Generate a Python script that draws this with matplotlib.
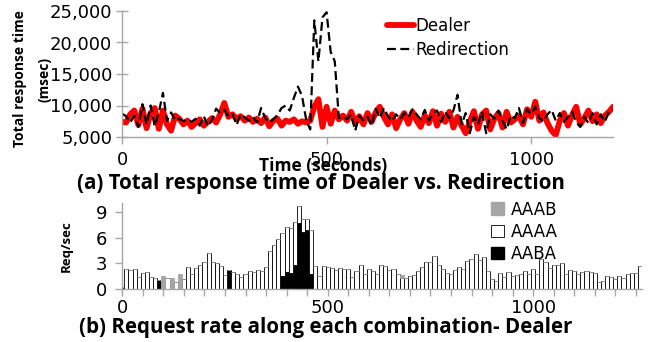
import numpy as np
import matplotlib
matplotlib.use("Agg")
import matplotlib.pyplot as plt
from matplotlib.patches import Patch

W, H = 660, 342

# (a) response time, sampled every 10 s from 0 to 1200 s (thousands of msec)
time_s = np.arange(0, 1201, 10)
dealer_k = [
    7.4, 7.3, 8.6, 9.2, 6.9, 9.5, 6.4, 8.8, 9.6, 6.3,
    9.2, 7.0, 6.0, 8.4, 7.9, 7.0, 7.6, 6.6, 7.2, 7.8,
    6.8, 7.4, 8.0, 7.3, 8.6, 10.4, 8.2, 8.6, 7.9, 8.3,
    7.6, 8.1, 7.4, 7.9, 7.2, 8.1, 6.7, 7.6, 7.9, 6.8,
    7.6, 7.4, 7.8, 7.1, 7.5, 7.3, 7.6, 9.8, 11.0, 6.6,
    9.8, 7.1, 9.2, 7.8, 8.4, 7.6, 9.0, 7.2, 8.3, 7.0,
    8.8, 7.4, 8.9, 9.8, 8.2, 7.0, 8.6, 6.4, 7.8, 8.8,
    7.1, 9.0, 7.6, 6.6, 8.4, 7.2, 9.1, 6.8, 8.7, 7.4,
    9.0, 6.5, 8.2, 6.8, 5.6, 7.4, 9.1, 6.3, 8.6, 9.2,
    6.2, 7.9, 8.8, 6.5, 9.0, 7.3, 7.8, 8.4, 7.0, 9.4,
    8.2, 10.6, 7.6, 8.9, 7.2, 6.0, 5.3, 7.6, 8.8, 6.8,
    8.5, 9.8, 7.0, 8.0, 9.2, 7.5, 8.6, 7.2, 8.4, 9.0,
    9.8,
]
redirection_k = [
    8.7, 8.3, 7.3, 8.4, 6.6, 10.2, 7.0, 10.0, 6.7, 8.9,
    12.0, 7.6, 8.9, 7.6, 7.9, 7.5, 7.8, 7.4, 7.9, 6.8,
    8.3, 6.7, 7.7, 9.5, 8.8, 9.3, 8.3, 8.7, 6.9, 8.6,
    8.1, 7.6, 8.2, 7.3, 9.6, 8.0, 7.3, 7.8, 8.5, 9.6,
    10.0, 9.2, 11.2, 13.0, 11.5, 7.8, 6.2, 23.5, 17.0, 24.0,
    24.8, 18.5, 17.0, 8.0, 8.2, 7.8, 8.6, 6.0, 8.4, 7.6,
    8.2, 6.8, 9.5, 8.0, 9.6, 8.3, 7.5, 8.6, 7.8, 8.8,
    8.1, 9.4, 8.6, 7.8, 9.3, 7.6, 8.7, 9.2, 7.4, 9.0,
    8.0, 9.2, 11.7, 7.0, 8.8, 5.6, 8.2, 7.0, 9.0, 5.6,
    8.6, 7.9, 9.2, 7.6, 6.2, 8.4, 8.0, 9.6, 7.2, 9.4,
    8.6, 9.8, 8.0, 7.4, 8.6, 9.3, 7.6, 8.8, 7.4, 8.2,
    9.0, 7.4, 6.6, 8.2, 7.2, 8.8, 7.0, 8.6, 7.4, 9.0,
    9.3,
]

# (b) request rate per 10 s bin, 0..1260 s
bin_s = np.arange(0, 1261, 10)
aaaa = [
    0, 2.3, 2.2, 2.35, 1.4, 1.9, 2.0, 1.4, 1.25, 0,
    0, 1.3, 0, 0.8, 0, 1.2, 2.55, 1.8, 2.4, 2.8,
    3.1, 4.2, 3.1, 3.0, 2.7, 1.65, 0, 2.0, 1.8, 1.45,
    1.8, 2.1, 1.95, 2.2, 2.05, 2.6, 4.5, 5.2, 5.85, 5.05,
    5.3, 5.2, 5.0, 2.0, 1.45, 1.3, 5.2, 2.7, 1.5, 2.65,
    2.6, 2.5, 2.2, 2.45, 2.35, 2.3, 1.45, 2.15, 2.8, 1.8,
    2.35, 2.15, 1.8, 2.85, 2.65, 2.2, 2.3, 1.7, 1.3, 1.3,
    1.5, 1.6, 2.1, 2.6, 3.2, 3.2, 3.85, 2.8, 2.35, 1.9,
    1.8, 2.25, 2.6, 2.3, 3.25, 3.5, 4.15, 3.45, 3.7, 2.15,
    1.2, 0.9, 1.9, 1.4, 1.95, 1.55, 1.65, 1.8, 2.05, 1.7,
    2.3, 1.8, 3.55, 3.2, 2.5, 2.75, 2.75, 3.05, 1.8, 2.2,
    2.1, 1.8, 2.0, 2.1, 2.0, 1.9, 0.85, 0.9, 1.5, 1.4,
    1.2, 1.5, 1.3, 1.8, 1.9, 1.9, 2.65,
]
aaba = [0.0] * len(bin_s)
for i, v in {0: 0.25, 9: 1.1, 26: 2.25, 39: 1.55, 40: 2.0, 41: 1.9, 42: 2.85,
             43: 7.7, 44: 6.7, 45: 6.85, 46: 1.7}.items():
    aaba[i] = v
aaab = [0.0] * len(bin_s)
for i, v in {10: 1.55, 12: 1.3, 14: 1.8, 68: 0.3}.items():
    aaab[i] = v

GRID = "#a6a6a6"
BOLD = dict(family="Open Sans", fontweight="bold")
TICK = 13


def px(x, y):
    return x / W, 1 - y / H


def style_axes(ax):
    for s in ("top", "right"):
        ax.spines[s].set_visible(False)
    for s in ("left", "bottom"):
        ax.spines[s].set_color(GRID)
        ax.spines[s].set_linewidth(1.0)
    ax.tick_params(colors=GRID, labelcolor="black", labelsize=TICK, width=1.0, length=5)


fig = plt.figure(figsize=(W / 100, H / 100), dpi=100)

# ---- (a) ----
ax1 = fig.add_axes([122 / W, 1 - 137 / H, 491 / W, 126 / H])
style_axes(ax1)
t = np.asarray(time_s)
ax1.plot(t, np.asarray(dealer_k) * 1000, color="#ff0000", lw=4.2,
         solid_joinstyle="round", solid_capstyle="round", label="Dealer")
ax1.plot(t, np.asarray(redirection_k) * 1000, color="black", lw=1.6,
         dashes=(4, 2), label="Redirection")
ax1.set_xlim(0, 1200)
ax1.set_ylim(5000, 25000)
ax1.set_xticks([0, 500, 1000])
ax1.set_yticks(np.arange(5000, 25001, 5000))
ax1.yaxis.set_major_formatter(matplotlib.ticker.StrMethodFormatter("{x:,.0f}"))
ax1.tick_params(axis="y", direction="inout", length=8, pad=3)
ax1.tick_params(axis="x", direction="out", length=5, pad=5)
ax1.legend(loc="upper left", bbox_to_anchor=(0.51, 1.07), frameon=False,
           fontsize=TICK - 1, handlelength=1.6, handletextpad=0.1, labelspacing=0.35)

fig.text(*px(20, 79), "Total response time", rotation=90, ha="center", va="center",
         fontsize=10, **BOLD)
fig.text(*px(45, 79), "(msec)", rotation=90, ha="center", va="center",
         fontsize=10, **BOLD)
fig.text(*px(323, 166), "Time (seconds)", ha="center", va="center", fontsize=12.5, **BOLD)
fig.text(*px(321, 183), "(a) Total response time of Dealer vs. Redirection",
         ha="center", va="center", fontsize=14.8, **BOLD)

# ---- (b) ----
ax2 = fig.add_axes([122.3 / W, 1 - 289 / H, 519.7 / W, 85.5 / H])
style_axes(ax2)
b = np.asarray(bin_s)
black = np.asarray(aaba)
white = np.asarray(aaaa)
gray = np.asarray(aaab)
ax2.bar(b, black, width=10, color="black", edgecolor="black", lw=0.6)
ax2.bar(b, white, width=10, bottom=black, color="white", edgecolor="black", lw=0.6)
ax2.bar(b, gray, width=10, bottom=black + white, color="#a6a6a6", edgecolor="#a6a6a6", lw=0.6)
ax2.set_xlim(0, 1265)
ax2.set_ylim(0, 10)
ax2.set_yticks([0, 3, 6, 9])
xt = np.arange(0, 1265, 50)
ax2.set_xticks(xt)
ax2.set_xticklabels([str(v) if v % 500 == 0 else "" for v in xt])
ax2.tick_params(axis="x", direction="out", length=5, pad=2)
ax2.tick_params(axis="y", direction="out", length=5, pad=6)

handles = [Patch(facecolor="#a6a6a6", edgecolor="#a6a6a6"),
           Patch(facecolor="white", edgecolor="black", lw=0.6),
           Patch(facecolor="black", edgecolor="black")]
ax2.legend(handles, ["AAAB", "AAAA", "AABA"], loc="upper left",
           bbox_to_anchor=(0.68, 1.21), frameon=False, fontsize=TICK - 1,
           handlelength=0.8, handleheight=0.8, handletextpad=0.4, labelspacing=0.25)

fig.text(*px(66, 246), "Req/sec", rotation=90, ha="center", va="center",
         fontsize=9.5, **BOLD)
fig.text(*px(326, 327), "(b) Request rate along each combination- Dealer",
         ha="center", va="center", fontsize=14.8, **BOLD)

fig.savefig("out.png", dpi=100)
